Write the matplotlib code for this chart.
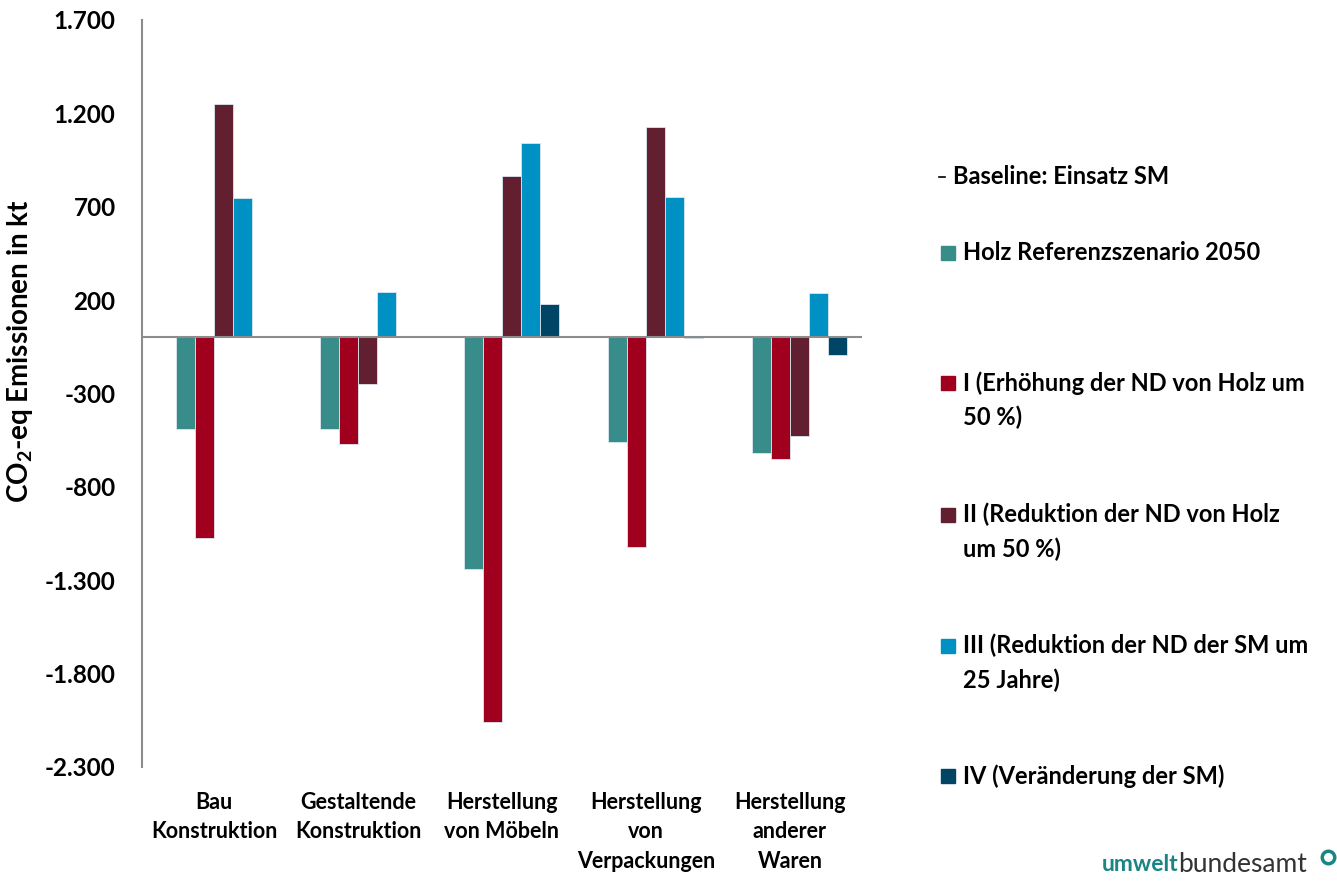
import numpy as np
import matplotlib.pyplot as plt
from matplotlib.patches import Rectangle
from matplotlib.lines import Line2D

plt.rcParams['font.family'] = ['Lato', 'DejaVu Sans']
plt.rcParams['font.weight'] = 'bold'
plt.rcParams['mathtext.fontset'] = 'custom'
plt.rcParams['mathtext.rm'] = 'Lato:bold'
plt.rcParams['mathtext.default'] = 'rm'

categories = ["Bau\nKonstruktion", "Gestaltende\nKonstruktion", "Herstellung\nvon Möbeln",
              "Herstellung\nvon\nVerpackungen", "Herstellung\nanderer\nWaren"]
series_names = ["Baseline: Einsatz SM", "Holz Referenzszenario 2050",
                "I (Erhöhung der ND von Holz um\n50 %)", "II (Reduktion der ND von Holz\num 50 %)",
                "III (Reduktion der ND der SM um\n25 Jahre)", "IV (Veränderung der SM)"]
baseline = [0, 0, 0, 0, 0]
holz_ref = [-490, -490, -1240, -560, -618]
szen_1 = [-1074, -570, -2059, -1122, -651]
szen_2 = [1250, -249, 865, 1127, -527]
szen_3 = [747, 244, 1041, 752, 238]
szen_4 = [0, 0, 179, -5, -94]
values = [baseline, holz_ref, szen_1, szen_2, szen_3, szen_4]
colors = ["#7f7f7f", "#388C8A", "#A0001E", "#621F30", "#0091C4", "#004466"]
yticks = [1700, 1200, 700, 200, -300, -800, -1300, -1800, -2300]

fig = plt.figure(figsize=(13.37, 8.88), dpi=100)
ax = fig.add_axes([0.1062, 0.1363, 0.5385, 0.8412])

x = np.arange(len(categories))
w = 0.132
for i, vals in enumerate(values):
    ax.bar(x + (i - 2.5) * w, vals, w, color=colors[i], edgecolor="#d8e8ef", linewidth=0.6)

ax.set_xlim(-0.5, len(categories) - 0.5)
ax.set_ylim(-2300, 1700)
ax.set_yticks(yticks)
ax.set_yticklabels([f"{v:,}".replace(",", ".") for v in yticks], fontsize=17.5)
ax.set_xticks(x)
ax.set_xticklabels(categories, fontsize=15.5, linespacing=1.5)
ax.tick_params(axis='both', length=0)
ax.tick_params(axis='x', pad=18)
ax.tick_params(axis='y', pad=19)
for s in ["top", "right", "bottom"]:
    ax.spines[s].set_visible(False)
ax.spines["left"].set_color("#8c8c8c")
ax.spines["left"].set_linewidth(1.5)
ax.axhline(0, color="#8c8c8c", lw=1.5, zorder=3)

ax.set_ylabel(r"CO$_2$-eq Emissionen in kt", fontsize=20, fontweight="bold")
ax.yaxis.set_label_coords(-0.148, 0.556)

# legend drawn by hand to keep the wide spacing
leg_y = [177, 253, 383, 515, 646, 776]
for i, name in enumerate(series_names):
    yf = 1 - leg_y[i] / 888
    if i == 0:
        fig.add_artist(Line2D([939 / 1337, 945 / 1337], [yf, yf], color="black", lw=1.2))
        fig.text(953 / 1337, yf, name, fontsize=17, va="center", ha="left")
    else:
        fig.add_artist(Rectangle((941 / 1337, yf - 7 / 888), 14 / 1337, 14 / 888,
                                 color=colors[i], transform=fig.transFigure))
        fig.text(963 / 1337, yf + 12 / 888, name, fontsize=17, va="top", ha="left",
                 linespacing=1.55)

fig.text(1178 / 1337, 1 - 864 / 888, "umwelt", fontsize=16.5, color="#1a8585",
         fontweight="bold", va="center", ha="right")
fig.text(1178 / 1337, 1 - 864 / 888, "bundesamt", fontsize=19, color="#333333",
         fontweight="normal", va="center", ha="left")
fig.add_artist(Line2D([1328 / 1337], [1 - 857 / 888], marker="o", markersize=9,
                      markerfacecolor="white", markeredgecolor="#1a8585", markeredgewidth=2.5))

fig.savefig("out.png", dpi=100)
